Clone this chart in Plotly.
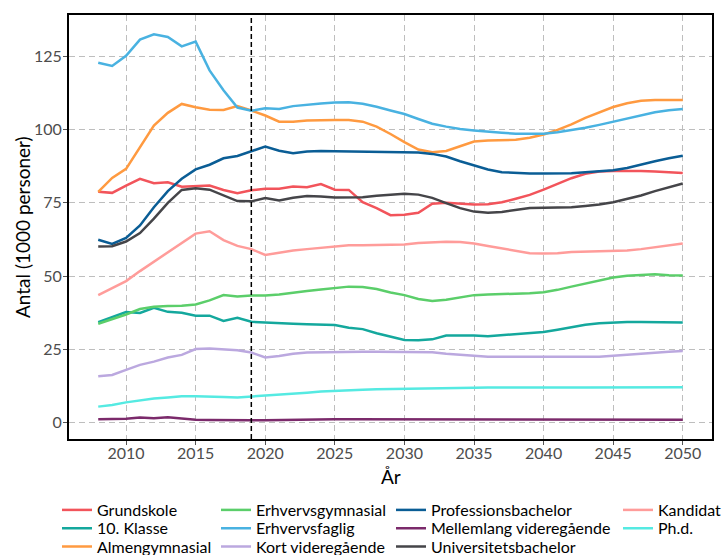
import plotly.graph_objects as go

years = list(range(2008, 2051))

grundskole = [78.8, 78.4, 80.9, 83.2, 81.7, 82.0, 80.5, 80.7, 80.9, 79.4, 78.3, 79.3, 79.8, 79.8, 80.6, 80.3, 81.4, 79.5, 79.4, 75.2, 73.2, 70.8,
              70.9, 71.6, 74.7, 75.0, 74.8, 74.4, 74.5, 75.2, 76.4, 77.7, 79.5, 81.5, 83.4, 84.9, 85.7, 85.9, 86.0, 85.9, 85.7, 85.5, 85.2]
klasse10 = [34.3, 36.1, 37.7, 37.4, 39.2, 37.8, 37.5, 36.5, 36.5, 34.7, 35.8, 34.4, 34.1, 33.9, 33.75, 33.6, 33.4, 33.3, 32.4, 31.9, 30.5, 29.3,
            28.2, 28.1, 28.4, 29.7, 29.8, 29.7, 29.5, 29.8, 30.1, 30.45, 30.9, 31.7, 32.6, 33.4, 33.9, 34.2, 34.3, 34.3, 34.3, 34.2, 34.2]
almengymnasial = [78.75, 83.5, 86.6, 94.0, 101.4, 105.7, 108.75, 107.6, 106.8, 106.7, 108.0, 106.5, 104.8, 102.7, 102.7, 103.1, 103.3, 103.3, 103.3, 102.7, 101.0, 98.5,
                  95.7, 93.2, 92.3, 92.7, 94.3, 95.9, 96.25, 96.25, 96.5, 97.2, 98.3, 99.9, 101.8, 104.0, 105.9, 107.7, 109.0, 109.8, 110.1, 110.1, 110.1]
erhvervsgymnasial = [33.75, 35.3, 36.9, 38.75, 39.5, 39.8, 39.9, 40.3, 41.7, 43.5, 43.0, 43.4, 43.4, 43.75, 44.2, 44.9, 45.45, 46.0, 46.4, 46.25, 45.6, 44.4,
                     43.5, 42.2, 41.5, 41.9, 42.8, 43.5, 43.75, 43.9, 43.9, 44.1, 44.5, 45.3, 46.4, 47.5, 48.6, 49.5, 50.1, 50.45, 50.6, 50.3, 50.2]
erhvervsfaglig = [122.8, 121.7, 125.2, 130.7, 132.5, 131.6, 128.4, 130.0, 120.2, 113.4, 107.5, 106.4, 107.3, 107.0, 108.0, 108.5, 108.9, 109.2, 109.3, 108.8, 107.8, 106.5,
                  105.3, 103.6, 102.0, 101.0, 100.2, 99.7, 99.2, 98.9, 98.6, 98.5, 98.6, 99.1, 99.8, 100.6, 101.6, 102.7, 103.8, 104.9, 105.9, 106.6, 107.0]
kort_videregaaende = [15.8, 16.25, 18.0, 19.7, 20.8, 22.2, 23.1, 25.1, 25.3, 25.0, 24.7, 23.9, 22.2, 22.7, 23.5, 23.9, 24.0, 24.2, 24.2, 24.2, 24.2, 24.2,
                      24.2, 24.2, 24.0, 23.5, 23.1, 22.7, 22.5, 22.5, 22.5, 22.5, 22.5, 22.5, 22.5, 22.5, 22.5, 22.8, 23.2, 23.5, 23.9, 24.2, 24.4]
professionsbachelor = [62.4, 61.0, 63.0, 67.3, 73.5, 79.0, 83.2, 86.4, 88.0, 90.2, 91.0, 92.5, 94.2, 92.8, 91.9, 92.5, 92.7, 92.6, 92.5, 92.4, 92.3, 92.4,
                       92.3, 92.2, 91.7, 90.8, 89.2, 87.7, 86.4, 85.45, 85.1, 85.0, 85.0, 85.0, 85.1, 85.45, 85.7, 86.1, 86.9, 88.1, 89.2, 90.2, 91.1]
mellemlang = [1.1, 1.2, 1.3, 1.7, 1.5, 1.8, 1.4, 1.0, 0.9, 0.8, 0.8, 0.8, 0.8, 0.9, 1.0, 1.1, 1.1, 1.1, 1.1, 1.1, 1.1, 1.1,
              1.1, 1.1, 1.1, 1.1, 1.1, 1.1, 1.0, 1.0, 0.9, 0.9, 0.9, 0.9, 0.9, 0.9, 0.9, 0.9, 0.9, 0.9, 0.9, 0.9, 1.0]
universitetsbachelor = [60.1, 60.2, 61.8, 64.7, 69.6, 75.0, 79.4, 80.0, 79.5, 77.5, 75.6, 75.5, 76.6, 75.8, 76.7, 77.3, 77.2, 76.8, 76.8, 76.9, 77.4, 77.7,
                        78.1, 77.8, 76.7, 74.9, 73.2, 72.0, 71.6, 71.9, 72.6, 73.2, 73.3, 73.4, 73.5, 73.9, 74.4, 75.2, 76.25, 77.5, 79.0, 80.3, 81.6]
kandidat = [43.5, 45.8, 48.3, 51.7, 54.9, 58.1, 61.4, 64.5, 65.3, 62.3, 60.3, 59.2, 57.2, 58.1, 58.75, 59.2, 59.7, 60.2, 60.5, 60.5, 60.6, 60.7,
            60.8, 61.25, 61.6, 61.7, 61.6, 61.1, 60.3, 59.4, 58.5, 57.8, 57.7, 57.8, 58.2, 58.3, 58.5, 58.5, 58.75, 59.2, 59.8, 60.5, 61.1]
phd = [5.45, 6.0, 6.9, 7.6, 8.2, 8.6, 9.0, 9.0, 9.0, 8.75, 8.6, 8.9, 9.1, 9.45, 9.9, 10.2, 10.6, 10.9, 11.1, 11.25, 11.4, 11.5,
       11.5, 11.6, 11.7, 11.7, 11.8, 11.9, 11.95, 12.0, 12.0, 12.0, 12.0, 12.0, 12.0, 12.0, 12.0, 12.0, 12.0, 12.0, 12.1, 12.1, 12.1]

series_names = ["Grundskole", "10. Klasse", "Almengymnasial", "Erhvervsgymnasial", "Erhvervsfaglig",
                "Kort videregående", "Professionsbachelor", "Mellemlang videregående",
                "Universitetsbachelor", "Kandidat", "Ph.d."]
series_values = [grundskole, klasse10, almengymnasial, erhvervsgymnasial, erhvervsfaglig,
                 kort_videregaaende, professionsbachelor, mellemlang, universitetsbachelor, kandidat, phd]
series_colors = ["#F2545B", "#14A89D", "#FF9A40", "#5BCE6A", "#49B2E1",
                 "#BBA8DF", "#0A5D95", "#7B2A6B", "#454549", "#FF9C9A", "#55EAE2"]

x_ticks = [2010, 2015, 2020, 2025, 2030, 2035, 2040, 2045, 2050]
y_ticks = [0, 25, 50, 75, 100, 125]
projection_start = 2019
x_title = "År"
y_title = "Antal (1000 personer)"

FONT = "Lato, sans-serif"
W, H = 724, 555
ML, MR, MT, MB = 69, 12, 15, 116
PW, PH = W - ML - MR, H - MT - MB

# legend layout (column-major, 3 rows)
legend_text_x = [97, 256, 431, 658]
legend_row_y = [510, 528.3, 546.7]

fig = go.Figure()
for i, (name, vals, col) in enumerate(zip(series_names, series_values, series_colors)):
    lkey = "legend" if i == 0 else f"legend{i+1}"
    fig.add_trace(go.Scatter(x=years, y=vals, mode="lines", name=name,
                             line=dict(color=col, width=2.5), legend=lkey))
    c, r = divmod(i, 3)
    fig.update_layout(**{lkey: dict(
        x=(legend_text_x[c] - 40) / W, xref="container", xanchor="left",
        y=1 - legend_row_y[r] / H, yref="container", yanchor="middle",
        bgcolor="rgba(0,0,0,0)", borderwidth=0,
        font=dict(family=FONT, size=16, color="#000000"),
    )})

fig.add_shape(type="line", x0=projection_start, x1=projection_start, xref="x",
              y0=0, y1=1, yref="paper", line=dict(color="black", width=1.5, dash="5px,3px"))

axis_common = dict(
    showgrid=True, gridcolor="#BEBEBE", gridwidth=1, griddash="6px,4px",
    showline=True, linecolor="black", linewidth=2, mirror=True,
    ticks="outside", ticklen=4, tickwidth=1, tickcolor="#555555",
    tickfont=dict(family=FONT, size=16, color="#4D4D4D"),
    zeroline=False,
)
fig.update_xaxes(range=[2005.9, 2052.1], tickvals=x_ticks, ticklabelstandoff=-5, **axis_common)
fig.update_yaxes(range=[-5.6, 139.1], tickvals=y_ticks, ticklabelstandoff=-2, **axis_common)

# axis titles as annotations (pixel-placed)
fig.add_annotation(text=x_title, xref="paper", yref="paper", x=0.5,
                   y=1 - (476 - MT) / PH, xanchor="center", yanchor="middle",
                   showarrow=False, font=dict(family=FONT, size=19, color="black"))
fig.add_annotation(text=y_title, xref="paper", yref="paper", x=(22 - ML) / PW,
                   y=1 - (227 - MT) / PH, xanchor="center", yanchor="middle", textangle=-90,
                   showarrow=False, font=dict(family=FONT, size=19, color="black"))

fig.update_layout(width=W, height=H, margin=dict(l=ML, r=MR, t=MT, b=MB, autoexpand=False),
                  plot_bgcolor="white", paper_bgcolor="white", showlegend=True,
                  font=dict(family=FONT))

fig.write_html("out.html", config={"displayModeBar": False},
               post_script="document.body.style.margin='0';")
